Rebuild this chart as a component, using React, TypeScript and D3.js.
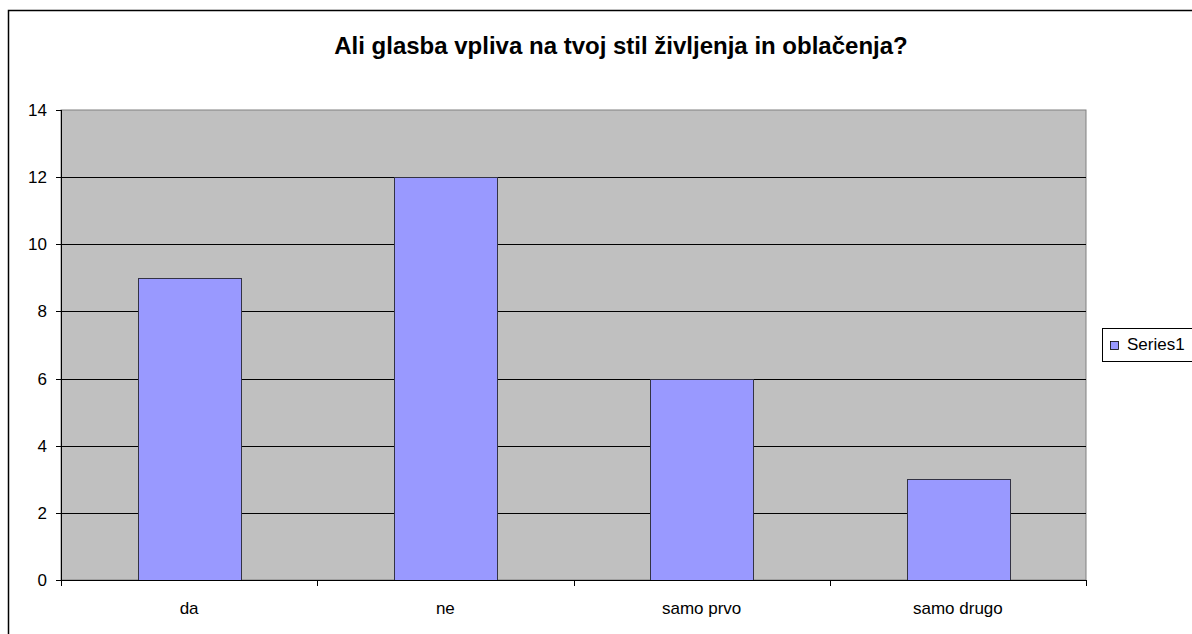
import React from "react";
import * as d3 from "d3";

const categories = ["da", "ne", "samo prvo", "samo drugo"];
const values = [9, 12, 6, 3];
const yTicks = [0, 2, 4, 6, 8, 10, 12, 14];
const seriesName = "Series1";
const title = "Ali glasba vpliva na tvoj stil življenja in oblačenja?";

const W = 1192;
const H = 634;
const plot = { left: 61, top: 110, right: 1086, bottom: 580 };
const font = "Liberation Sans, Arial, sans-serif";

export default function App() {
  const x = d3
    .scaleBand<string>()
    .domain(categories)
    .range([plot.left, plot.right])
    .paddingInner(0.6)
    .paddingOuter(0.3);
  const band = (plot.right - plot.left) / categories.length;
  const y = d3.scaleLinear().domain([0, 14]).range([plot.bottom, plot.top]);

  return (
    <svg
      width={W}
      height={H}
      style={{ position: "absolute", left: 0, top: 0, background: "#fff" }}
      fontFamily={font}
    >
      <rect x={8.5} y={10.5} width={W} height={H} fill="#fff" stroke="#000" strokeWidth={1.5} />
      <text
        x={621}
        y={54}
        textAnchor="middle"
        fontSize={24}
        fontWeight="bold"
        fill="#000"
      >
        {title}
      </text>
      <rect
        x={plot.left}
        y={plot.top}
        width={plot.right - plot.left}
        height={plot.bottom - plot.top}
        fill="#C0C0C0"
        stroke="#808080"
        strokeWidth={1}
      />
      {yTicks.slice(1, -1).map((t) => (
        <line
          key={"g" + t}
          x1={plot.left}
          x2={plot.right}
          y1={Math.round(y(t)) + 0.5}
          y2={Math.round(y(t)) + 0.5}
          stroke="#000"
          strokeWidth={1}
        />
      ))}
      {categories.map((c, i) => {
        const x0 = x(c)!;
        const bw = x.bandwidth();
        return (
          <rect
            key={c}
            x={Math.round(x0) + 0.5}
            y={Math.round(y(values[i])) + 0.5}
            width={Math.round(bw)}
            height={Math.round(y(0) - y(values[i]))}
            fill="#9999FF"
            stroke="#333344"
            strokeWidth={1}
          />
        );
      })}
      <line x1={plot.left + 0.5} x2={plot.left + 0.5} y1={plot.top} y2={plot.bottom} stroke="#000" />
      <line x1={plot.left - 5} x2={plot.right} y1={plot.bottom + 0.5} y2={plot.bottom + 0.5} stroke="#000" />
      {yTicks.map((t) => (
        <g key={"t" + t}>
          <line
            x1={plot.left - 5}
            x2={plot.left}
            y1={Math.round(y(t)) + 0.5}
            y2={Math.round(y(t)) + 0.5}
            stroke="#000"
          />
          <text x={47} y={y(t) + 6} textAnchor="end" fontSize={17} fill="#000">
            {t}
          </text>
        </g>
      ))}
      {d3.range(categories.length + 1).map((i) => (
        <line
          key={"xt" + i}
          x1={Math.round(plot.left + band * i) + 0.5}
          x2={Math.round(plot.left + band * i) + 0.5}
          y1={plot.bottom}
          y2={plot.bottom + 6}
          stroke="#000"
        />
      ))}
      {categories.map((c) => (
        <text
          key={"l" + c}
          x={x(c)! + x.bandwidth() / 2}
          y={614}
          textAnchor="middle"
          fontSize={17}
          fill="#000"
        >
          {c}
        </text>
      ))}
      <rect x={1102.5} y={328.5} width={120} height={33} fill="#fff" stroke="#000" strokeWidth={1} />
      <rect x={1110.5} y={341.5} width={8} height={8} fill="#9999FF" stroke="#000" strokeWidth={0.8} />
      <text x={1127} y={350} fontSize={17} fill="#000">
        {seriesName}
      </text>
    </svg>
  );
}
